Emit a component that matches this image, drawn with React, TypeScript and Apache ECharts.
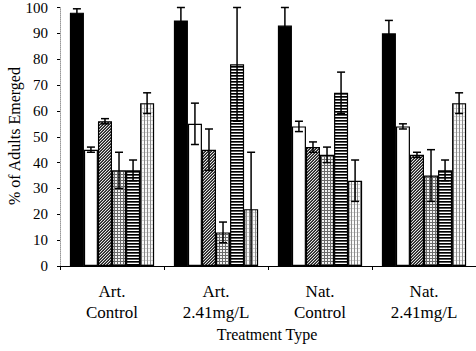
import React, { useEffect, useRef } from "react";
import * as echarts from "echarts";

const categories = ["Art.\nControl", "Art.\n2.41mg/L", "Nat.\nControl", "Nat.\n2.41mg/L"];

const blackVals = [98, 95, 93, 90];
const blackErr = [1.5, 5, 7, 5];
const whiteVals = [45, 55, 54, 54];
const whiteErr = [1, 8, 2, 1];
const hatchVals = [56, 45, 46, 43];
const hatchErr = [1, 8, 2, 1];
const gridVals = [37, 13, 43, 35];
const gridErr = [7, 4, 3, 10];
const stripeVals = [37, 78, 67, 37];
const stripeErr = [4, 22, 8, 4];
const stippleVals = [63, 22, 33, 63];
const stippleErr = [4, 22, 8, 4];

const yTicks = [0, 10, 20, 30, 40, 50, 60, 70, 80, 90, 100];

const GAP = 0.19;
const FONT = "Liberation Serif";

function makePattern(w: number, h: number, fn: (x: number, y: number) => string) {
  const c = document.createElement("canvas");
  c.width = w;
  c.height = h;
  const ctx = c.getContext("2d")!;
  for (let y = 0; y < h; y++) {
    for (let x = 0; x < w; x++) {
      ctx.fillStyle = fn(x, y);
      ctx.fillRect(x, y, 1, 1);
    }
  }
  return { image: c, repeat: "repeat" } as any;
}

export default function App() {
  const ref = useRef<HTMLDivElement>(null);
  useEffect(() => {
    const chart = echarts.init(ref.current!, null, { renderer: "svg" });
    const valsAll = [blackVals, whiteVals, hatchVals, gridVals, stripeVals, stippleVals];
    const errAll = [blackErr, whiteErr, hatchErr, gridErr, stripeErr, stippleErr];
    const fills: any[] = [
      "#000",
      "#fff",
      makePattern(3, 3, (x, y) => ((x + y) % 3 === 0 ? "#e6e6e6" : (x + y) % 3 === 1 ? "#555" : "#222")),
      makePattern(3, 3, (x, y) => (x % 3 === 0 || y % 3 === 0 ? "#6a6a6a" : "#f2f2f2")),
      makePattern(3, 3, (x, y) => (y === 0 ? "#000" : y === 1 ? "#555" : "#fff")),
      makePattern(3, 4, (x, y) => (x === 0 ? "#8a8a8a" : y === 0 ? "#cfcfcf" : "#fafafa")),
    ];
    const barSeries = valsAll.map((vals, i) => ({
      type: "bar",
      data: vals,
      barGap: "0%",
      barCategoryGap: GAP * 100 + "%",
      itemStyle: { color: fills[i], borderColor: "#000", borderWidth: 1.2 },
      z: 2,
    }));
    const errData: number[][] = [];
    errAll.forEach((errs, si) => {
      errs.forEach((e, ci) => {
        errData.push([ci, valsAll[si][ci], e, si]);
      });
    });
    const errSeries = {
      type: "custom",
      z: 10,
      clip: false,
      data: errData,
      encode: { x: 0, y: 1 },
      renderItem: (params: any, api: any) => {
        const ci = api.value(0);
        const v = api.value(1);
        const e = api.value(2);
        const si = api.value(3);
        const center = api.coord([ci, v]);
        const band = api.size([1, 0])[0];
        const groupW = band * (1 - GAP);
        const bw = groupW / 6;
        const x = center[0] - groupW / 2 + bw * (si + 0.5);
        const yTop = api.coord([ci, v + e])[1];
        const yBot = api.coord([ci, Math.max(0, v - e)])[1];
        const cap = 4;
        const st = { stroke: "#000", lineWidth: 1.5 };
        return {
          type: "group",
          children: [
            { type: "line", shape: { x1: x, y1: yTop, x2: x, y2: yBot }, style: st },
            { type: "line", shape: { x1: x - cap, y1: yTop, x2: x + cap, y2: yTop }, style: st },
            { type: "line", shape: { x1: x - cap, y1: yBot, x2: x + cap, y2: yBot }, style: st },
          ],
        };
      },
    };
    chart.setOption({
      animation: false,
      backgroundColor: "#fff",
      grid: { left: 60, right: 0, top: 6, bottom: 85, containLabel: false },
      xAxis: {
        type: "category",
        data: categories,
        axisLine: { lineStyle: { color: "#000", width: 1.2 } },
        axisTick: { show: true, length: 4, lineStyle: { color: "#000" } },
        axisLabel: { color: "#000", fontFamily: FONT, fontSize: 17, lineHeight: 21, margin: 15 },
      },
      yAxis: {
        type: "value",
        min: 0,
        max: 100,
        interval: yTicks[1] - yTicks[0],
        axisLine: { show: true, lineStyle: { color: "#999", type: "dotted", width: 1 } },
        axisTick: { show: true, length: 3, lineStyle: { color: "#000" } },
        axisLabel: { color: "#000", fontFamily: FONT, fontSize: 15, margin: 12 },
        splitLine: { show: false },
      },
      graphic: [
        {
          type: "text",
          x: 14,
          y: 136,
          rotation: Math.PI / 2,
          style: { text: "% of Adults Emerged", fontFamily: FONT, fontSize: 16, fill: "#000", align: "center", verticalAlign: "middle" },
        },
        {
          type: "text",
          x: 267,
          y: 334,
          style: { text: "Treatment Type", fontFamily: FONT, fontSize: 16, fill: "#000", align: "center", verticalAlign: "middle" },
        },
      ],
      series: [...barSeries, errSeries],
    });
    return () => chart.dispose();
  }, []);
  return <div ref={ref} style={{ position: "absolute", left: 0, top: 0, width: 476, height: 351 }} />;
}
